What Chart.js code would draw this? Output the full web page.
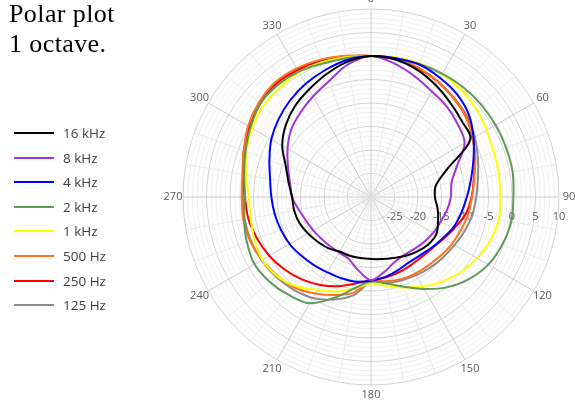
<!DOCTYPE html>
<html>
<head>
<meta charset="utf-8">
<script src="https://cdn.jsdelivr.net/npm/chart.js@4.4.1/dist/chart.umd.min.js"></script>
<style>
  body { margin: 0; width: 575px; height: 405px; background: #fff; position: relative; overflow: hidden; }
  #c { position: absolute; left: 0; top: 0; }
  #title { position: absolute; left: 9px; top: -1px; font: 26px/30px "Liberation Serif", "Times New Roman", serif;
           letter-spacing: 0.4px; color: #000; }
  .item { position: absolute; left: 14px; height: 24px; display: flex; align-items: center;
          font: 13.5px "Open Sans", sans-serif; color: #404040; }
  .swatch { display: inline-block; width: 40px; height: 2px; margin-right: 9px; }
</style>
</head>
<body>
<canvas id="c" width="575" height="405"></canvas>
<div id="title">Polar plot<br>1 octave.</div>
<div id="legend"></div>
<script>
// angle of each sample, degrees clockwise from the top
const angles = [0, 10, 20, 30, 40, 50, 60, 70, 80, 90, 100, 110, 120, 130, 140, 150, 160, 170,
                180, 190, 200, 210, 220, 230, 240, 250, 260, 270, 280, 290, 300, 310, 320, 330, 340, 350];
const angleTickLabels = [0, 30, 60, 90, 120, 150, 180, 210, 240, 270, 300, 330];
const dbTickLabels = [-25, -20, -15, -10, -5, 0, 5, 10];

// level in dB at each angle
const khz16 = [0, -0.3, -1.2, -2.5, -3.8, -4.8, -5.6, -12.8, -16, -16.4, -15.6, -14.8, -14, -14.2, -14.8, -15.5, -16.2, -16.6,
               -16.8, -16.8, -16.7, -16.6, -15.8, -15.2, -14.5, -13.8, -13.4, -13.2, -12.2, -10.7, -8.2, -6.3, -4.8, -3.6, -2.2, -0.8];
const khz8 = [0, -1.2, -2.7, -4.1, -4.9, -5.9, -7, -10.5, -12.6, -13, -13.6, -14.3, -14.7, -15.2, -15.6, -15.8, -15.3, -13.8,
              -12.3, -14.2, -16, -16.4, -16.4, -16.2, -15.8, -15.3, -14.4, -13.2, -12.5, -11.2, -9.5, -7.8, -6.6, -5.3, -3.8, -1.4];
const khz4 = [0, 0, 0, -0.7, -1.5, -2.8, -4.8, -6.8, -8.4, -9.6, -10.5, -11.3, -12.4, -13.2, -13.8, -13.9, -13.4, -12.7,
              -12.2, -11.7, -11.6, -11.5, -11.1, -10.6, -10, -9.6, -9.2, -8.8, -8.2, -7, -5.5, -4.3, -3.2, -2.2, -1.3, -0.4];
const khz2 = [0, 0, 0.1, 0.3, 0.5, 0.6, 0.6, 0.6, 0.6, 0.3, 0.3, -0.3, -1.2, -2.8, -4.9, -7.4, -9.7, -11.3,
              -12, -10.3, -7.2, -3.9, -2.8, -1.9, -1.4, -1.9, -2.6, -3.2, -2.6, -1.6, -0.4, 0.8, 1.0, 0.8, 0.2, 0];
const khz1 = [0, 0.2, 0.3, 0.2, -0.2, -0.8, -1.6, -2.2, -2.4, -2.5, -2.4, -3, -4, -5.1, -6.5, -8, -9.5, -10.8,
              -11.6, -10.3, -8.6, -7.2, -5.2, -3.9, -3.3, -3.6, -4, -4, -3, -1.8, -0.8, 0, 0.3, 0.6, 0.5, 0.2];
const hz500 = [0, -0.2, -0.7, -1.7, -2.6, -3.6, -5, -6.4, -7.7, -8.5, -9, -9.6, -10.1, -10.6, -11, -11.2, -11.4, -11.8,
               -12.2, -9.4, -7.8, -6.3, -4.8, -4, -3.2, -2.6, -2.4, -2.5, -2.2, -1.2, 0.2, 1.2, 1.8, 1.6, 1.1, 0.5];
const hz250 = [0, -0.2, -0.8, -1.6, -2.6, -3.6, -5, -6.5, -7.8, -8.6, -9.5, -11, -12.2, -13, -13.3, -13.2, -12.9, -12.6,
               -12.3, -11.3, -9.8, -8.4, -7.1, -6, -5, -4.2, -3.5, -3.2, -2.4, -1.2, -0.2, 0.8, 1.4, 1.2, 0.9, 0.4];
const hz125 = [0, -0.2, -0.7, -1.6, -2.5, -3.3, -4.5, -5.8, -6.9, -7.6, -8.1, -8.8, -9.5, -10, -10.4, -10.8, -11.1, -11.5,
               -12, -8.8, -6.8, -5.2, -4.3, -3.6, -3.1, -2.8, -2.7, -2.8, -2.4, -1.4, 0, 1, 1.6, 1.4, 1, 0.4];

const seriesNames = ['16 kHz', '8 kHz', '4 kHz', '2 kHz', '1 kHz', '500 Hz', '250 Hz', '125 Hz'];
const seriesData = [khz16, khz8, khz4, khz2, khz1, hz500, hz250, hz125];
const seriesColors = ['#000000', '#a335d6', '#0000ff', '#5f9a5a', '#ffff00', '#ff7420', '#ff0000', '#8c8c8c'];

// angle and dB labels drawn at positions taken from the radial scale
const polarLabels = {
  id: 'polarLabels',
  beforeDatasetsDraw(chart) {
    const r = chart.scales.r;
    const ctx = chart.ctx;
    ctx.save();
    ctx.fillStyle = '#595959';
    ctx.font = '11px "Open Sans", sans-serif';
    ctx.textAlign = 'center';
    ctx.textBaseline = 'middle';
    angleTickLabels.forEach(a => {
      const p = r.getPointPosition(angles.indexOf(a), r.drawingArea + 10);
      ctx.fillText(String(a), p.x, p.y);
    });
    const idx90 = angles.indexOf(90);
    dbTickLabels.forEach(v => {
      const p = r.getPointPositionForValue(idx90, v);
      ctx.fillText(String(v), p.x, p.y + 20);
    });
    ctx.restore();
  }
};

new Chart(document.getElementById('c'), {
  type: 'radar',
  data: {
    labels: angles,
    datasets: seriesNames.map((name, i) => ({
      label: name,
      data: seriesData[i],
      borderColor: seriesColors[i],
      backgroundColor: seriesColors[i],
      borderWidth: 2,
      pointRadius: 0,
      tension: 0.35,
      fill: false,
    })),
  },
  options: {
    responsive: false,
    animation: false,
    layout: { padding: { left: 183, top: 9, right: 16, bottom: 20 } },
    plugins: { legend: { display: false }, tooltip: { enabled: false } },
    scales: {
      r: {
        min: -30,
        max: 10,
        startAngle: 0,
        ticks: { display: false, stepSize: 1 },
        grid: {
          circular: true,
          color: c => (c.tick && c.tick.value % 5 === 0) ? '#d3d3d3' : '#efefef',
          lineWidth: 1,
        },
        angleLines: {
          color: c => angles[c.index] % 30 === 0 ? '#cccccc' : '#eaeaea',
          lineWidth: 1,
        },
        pointLabels: { display: false },
      },
    },
  },
  plugins: [polarLabels],
});

const legend = document.getElementById('legend');
seriesNames.forEach((name, i) => {
  const row = document.createElement('div');
  row.className = 'item';
  row.style.top = (121 + i * 24.6) + 'px';
  row.innerHTML = '<span class="swatch" style="background:' + seriesColors[i] + '"></span><span>' + name + '</span>';
  legend.appendChild(row);
});
</script>
</body>
</html>
